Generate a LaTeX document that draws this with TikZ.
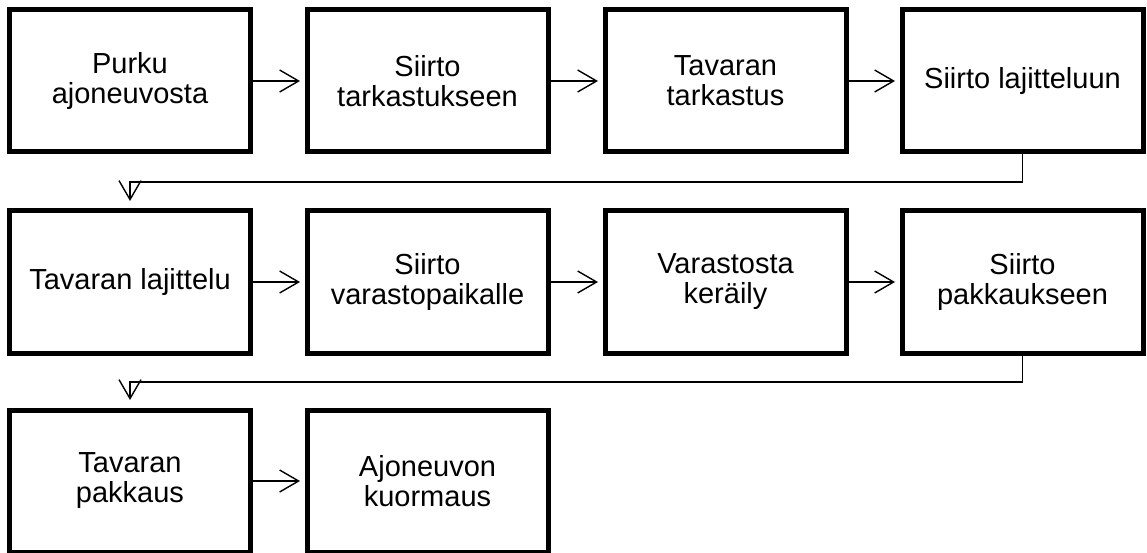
\documentclass[tikz,border=0pt]{standalone}
\usepackage{fontspec}
\setmainfont{Liberation Sans}
\usetikzlibrary{arrows.meta}
\begin{document}
\begin{tikzpicture}[x=1pt,y=-1pt,
  stepbox/.style={draw=black,line width=5pt,fill=white,minimum width=241pt,
    minimum height=142pt,inner sep=0pt,align=center,
    font=\fontsize{29}{30}\selectfont},
  flow/.style={draw=black,line width=1.4pt,
    -{Straight Barb[length=19pt,width=22pt,line width=1.4pt]}},
  hflow/.style={flow,shorten >=4.5pt},
  vflow/.style={flow,shorten >=7.5pt}]
\useasboundingbox (0,0) rectangle (1147,553);

% first row
\node[stepbox] (a1) at (130,81)    {Purku\\ajoneuvosta};
\node[stepbox] (a2) at (427.5,81)  {Siirto\\tarkastukseen};
\node[stepbox] (a3) at (725.5,81)  {Tavaran\\tarkastus};
\node[stepbox] (a4) at (1022.5,81) {Siirto lajitteluun};

% second row
\node[stepbox] (b1) at (130,282)    {Tavaran lajittelu};
\node[stepbox] (b2) at (427.5,282)  {Siirto\\varastopaikalle};
\node[stepbox] (b3) at (725.5,282)  {Varastosta\\keräily};
\node[stepbox] (b4) at (1022.5,282) {Siirto\\pakkaukseen};

% third row
\node[stepbox] (c1) at (130,481)   {Tavaran\\pakkaus};
\node[stepbox] (c2) at (427.5,481) {Ajoneuvon\\kuormaus};

% arrows within rows
\draw[hflow] (a1.east) -- (a2.west);
\draw[hflow] (a2.east) -- (a3.west);
\draw[hflow] (a3.east) -- (a4.west);
\draw[hflow] (b1.east) -- (b2.west);
\draw[hflow] (b2.east) -- (b3.west);
\draw[hflow] (b3.east) -- (b4.west);
\draw[hflow] (c1.east) -- (c2.west);

% returns to the start of the next row
\coordinate (r1) at (0,182);
\coordinate (r2) at (0,382);
\draw[vflow] (a4.south) |- (r1 -| b1.north) -- (b1.north);
\draw[vflow] (b4.south) |- (r2 -| c1.north) -- (c1.north);
\end{tikzpicture}
\end{document}
